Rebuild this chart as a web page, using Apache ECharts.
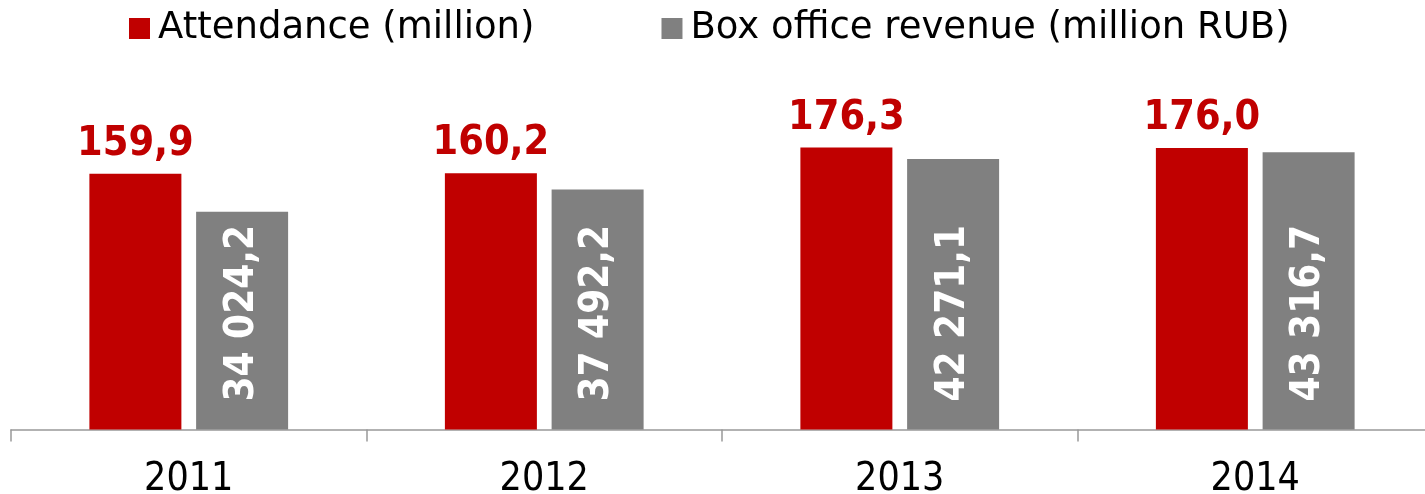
<!DOCTYPE html>
<html>
<head>
<meta charset="utf-8">
<script src="https://cdn.jsdelivr.net/npm/echarts@6/dist/echarts.min.js"></script>
<style>
html,body{margin:0;padding:0;background:#fff;}
#chart{width:1425px;height:494px;}
</style>
</head>
<body>
<div id="chart"></div>
<script>
const years = ['2011', '2012', '2013', '2014'];
const attendance = [159.9, 160.2, 176.3, 176.0];
const boxOffice = [34024.2, 37492.2, 42271.1, 43316.7];
const seriesNames = ['Attendance (million)', 'Box office revenue (million RUB)'];

function fmtComma(v, dec) {
  const s = v.toFixed(dec);
  const parts = s.split('.');
  const intPart = parts[0].replace(/\B(?=(\d{3})+(?!\d))/g, ' ');
  return intPart + ',' + parts[1];
}

const chart = echarts.init(document.getElementById('chart'));
chart.setOption({
  animation: false,
  backgroundColor: '#ffffff',
  legend: {
    left: 124,
    top: 5,
    itemWidth: 21,
    itemHeight: 21,
    itemGap: 127,
    icon: 'rect',
    textStyle: { fontFamily: 'DejaVu Sans', fontSize: 37, color: '#000', padding: [0, 0, 0, 3] },
    data: seriesNames
  },
  grid: { left: 11, top: 29.5, width: 1422, height: 400, outerBoundsMode: 'none', containLabel: false },
  xAxis: {
    type: 'category',
    data: years,
    axisLine: { lineStyle: { color: '#999', width: 1.5 } },
    axisTick: { show: true, length: 12, lineStyle: { color: '#999', width: 1.5 } },
    axisLabel: { fontFamily: 'DejaVu Sans Condensed', fontSize: 39, color: '#000', margin: 31 }
  },
  yAxis: [
    { type: 'value', min: 0, max: 250, show: false, splitLine: { show: false } },
    { type: 'value', min: 0, max: 62500, show: false, splitLine: { show: false } }
  ],
  series: [
    {
      name: seriesNames[0],
      type: 'bar',
      yAxisIndex: 0,
      data: attendance,
      barWidth: 92,
      barGap: '16%',
      itemStyle: { color: '#C00000' },
      label: {
        show: true,
        position: 'top',
        distance: 9,
        fontFamily: 'DejaVu Sans Condensed',
        fontWeight: 'bold',
        fontSize: 41,
        color: '#C00000',
        formatter: p => fmtComma(p.value, 1)
      }
    },
    {
      name: seriesNames[1],
      type: 'bar',
      yAxisIndex: 1,
      data: boxOffice,
      barWidth: 92,
      barGap: '16%',
      itemStyle: { color: '#808080' },
      label: {
        show: true,
        position: 'insideBottom',
        rotate: 90,
        align: 'left',
        verticalAlign: 'middle',
        distance: 28,
        fontFamily: 'DejaVu Sans Condensed',
        fontWeight: 'bold',
        fontSize: 40,
        color: '#ffffff',
        formatter: p => fmtComma(p.value, 1)
      }
    }
  ]
});
</script>
</body>
</html>
